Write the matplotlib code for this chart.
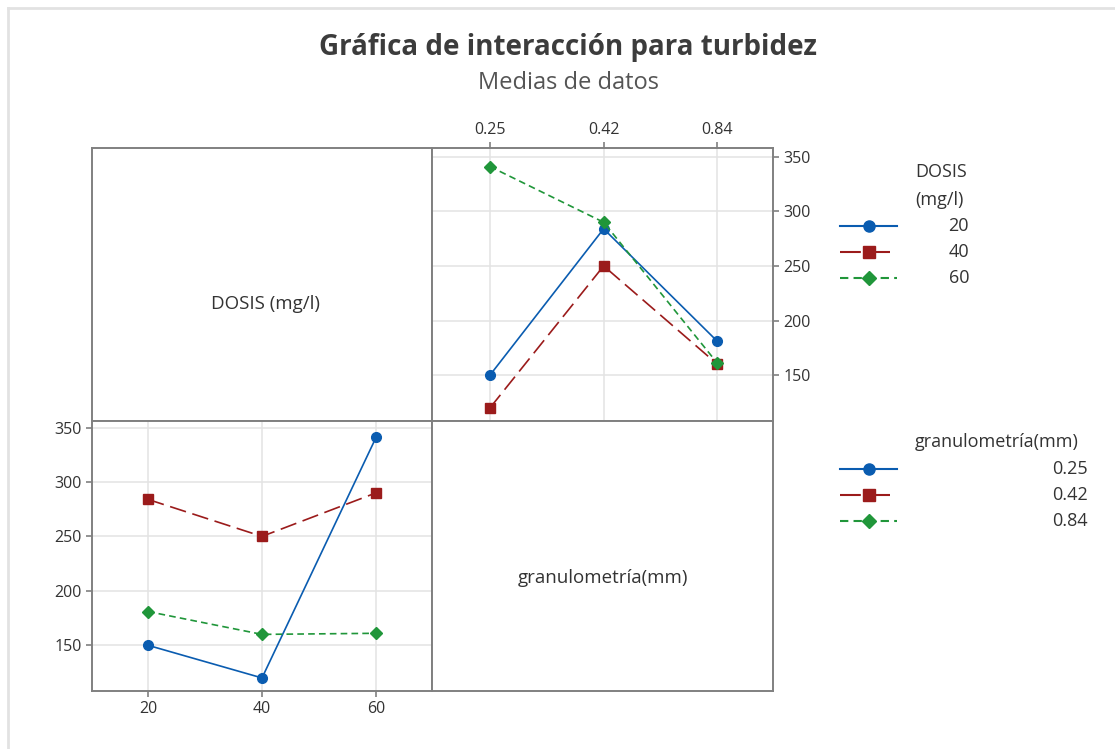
from matplotlib import pyplot as plt
from matplotlib.lines import Line2D
import numpy as np

# medias de turbidez: una lista por dosis, un valor por granulometria
DOSIS = ['20', '40', '60']
GRANULOMETRIA = ['0.25', '0.42', '0.84']
TURBIDEZ_D20 = [150, 284, 181]
TURBIDEZ_D40 = [120, 250, 160]
TURBIDEZ_D60 = [341, 290, 161]
Y_TICKS = [150, 200, 250, 300, 350]

COLORES = ['#0a5cb0', '#9b1b1b', '#20963a']
MARCAS = ['o', 's', 'D']
ESTILOS = ['-', (0, (10, 4)), (0, (4, 2.5))]
TAMANOS = [7, 7, 6.5]

W, H = 1115, 749
FRAME = '#808080'
TEXTO = '#333333'


def rect(x0, y0, x1, y1):
    return [x0 / W, 1 - y1 / H, (x1 - x0) / W, (y1 - y0) / H]


def estilo_panel(ax):
    for s in ax.spines.values():
        s.set_color(FRAME)
        s.set_linewidth(1.4)
    ax.grid(True, color='#e3e3e3', linewidth=1.1)
    ax.set_axisbelow(True)
    ax.tick_params(colors=FRAME, labelcolor=TEXTO, labelsize=11.5, length=4, width=1.2)


def panel_vacio(ax, texto, x, y):
    for s in ax.spines.values():
        s.set_color(FRAME)
        s.set_linewidth(1.4)
    ax.set_xticks([])
    ax.set_yticks([])
    ax.set_xlim(0, 1)
    ax.set_ylim(0, 1)
    ax.text(x, y, texto, ha='center', va='center', fontsize=13.5, color=TEXTO)


def main():
    plt.rcParams['font.family'] = ['Open Sans', 'DejaVu Sans']
    fig = plt.figure(figsize=(W / 100, H / 100), dpi=100)
    fig.patch.set_facecolor('white')

    series = [TURBIDEZ_D20, TURBIDEZ_D40, TURBIDEZ_D60]
    tabla = np.array(series)

    ax_tl = fig.add_axes(rect(92, 148, 432, 421))
    ax_tr = fig.add_axes(rect(432, 148, 773, 421))
    ax_bl = fig.add_axes(rect(92, 421, 432, 691))
    ax_br = fig.add_axes(rect(432, 421, 773, 691))

    panel_vacio(ax_tl, 'DOSIS (mg/l)', 0.51, 0.43)
    panel_vacio(ax_br, 'granulometría(mm)', 0.50, 0.42)

    # arriba derecha: x = granulometria, una linea por dosis
    xg = np.arange(len(GRANULOMETRIA))
    for i in range(len(DOSIS)):
        ax_tr.plot(xg, tabla[i], color=COLORES[i], linestyle=ESTILOS[i], linewidth=1.2,
                   marker=MARCAS[i], markersize=TAMANOS[i], zorder=3)
    estilo_panel(ax_tr)
    ax_tr.set_xlim(-0.51, 2.49)
    ax_tr.set_ylim(108, 358)
    ax_tr.set_xticks(xg, GRANULOMETRIA)
    ax_tr.set_yticks(Y_TICKS)
    ax_tr.xaxis.tick_top()
    ax_tr.yaxis.tick_right()

    # abajo izquierda: x = dosis, una linea por granulometria
    xd = np.arange(len(DOSIS))
    for j in range(len(GRANULOMETRIA)):
        ax_bl.plot(xd, tabla[:, j], color=COLORES[j], linestyle=ESTILOS[j], linewidth=1.2,
                   marker=MARCAS[j], markersize=TAMANOS[j], zorder=3)
    estilo_panel(ax_bl)
    ax_bl.set_xlim(-0.49, 2.49)
    ax_bl.set_ylim(108, 356)
    ax_bl.set_xticks(xd, DOSIS)
    ax_bl.set_yticks(Y_TICKS)

    # capa de figura en pixeles para el marco
    ov = fig.add_axes([0, 0, 1, 1], zorder=-1)
    ov.set_xlim(0, W)
    ov.set_ylim(H, 0)
    ov.axis('off')
    ov.plot([8, W], [8, 8], color='#e2e2e2', linewidth=2)
    ov.plot([8, 8], [8, H], color='#e2e2e2', linewidth=2)

    fig.text(568 / W, 1 - 47 / H, 'Gráfica de interacción para turbidez', ha='center', va='center',
             fontsize=20, fontweight='bold', color='#3c3c3c')
    fig.text(568 / W, 1 - 83 / H, 'Medias de datos', ha='center', va='center',
             fontsize=17, color='#555555')

    def leyenda(titulo_lineas, y_titulo, etiquetas, y0, x_der):
        for k, t in enumerate(titulo_lineas):
            fig.text(915 / W, 1 - (y_titulo + 28 * k) / H, t, ha='left', va='center',
                     fontsize=13, color=TEXTO)
        for k, lab in enumerate(etiquetas):
            y = y0 + 26 * k
            ln = Line2D([840 / W, 897 / W], [1 - y / H] * 2, transform=fig.transFigure,
                        color=COLORES[k], linestyle=ESTILOS[k], linewidth=1.5)
            mk = Line2D([869 / W], [1 - y / H], transform=fig.transFigure, color=COLORES[k],
                        marker=MARCAS[k], markersize=TAMANOS[k] + 1, linestyle='none')
            fig.add_artist(ln)
            fig.add_artist(mk)
            fig.text(x_der / W, 1 - y / H, lab, ha='right', va='center', fontsize=13, color=TEXTO)

    leyenda(['DOSIS', '(mg/l)'], 172, DOSIS, 226, 969)
    leyenda(['granulometría(mm)'], 442, GRANULOMETRIA, 469, 1088)

    fig.savefig('out.png', dpi=100, facecolor='white')


if __name__ == '__main__':
    main()
